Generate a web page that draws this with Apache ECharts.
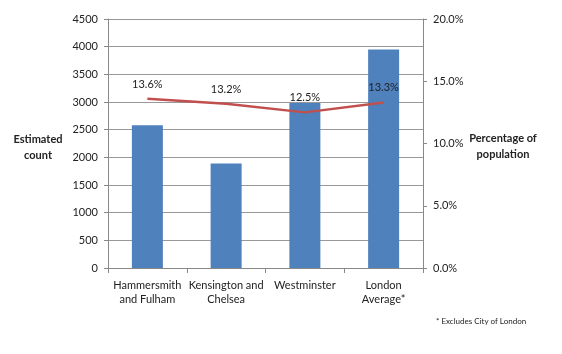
<!DOCTYPE html>
<html><head><meta charset="utf-8">
<script src="https://cdn.jsdelivr.net/npm/echarts@6/dist/echarts.min.js"></script>
<style>html,body{margin:0;padding:0;background:#fff}#c{width:562px;height:354px}</style>
</head><body><div id="c"></div>
<script>
const categories = ['Hammersmith\nand Fulham', 'Kensington and\nChelsea', 'Westminster', 'London\nAverage*'];
const counts = [2580, 1890, 2980, 3950];
const percents = [13.6, 13.2, 12.5, 13.3];
const leftTicks = [0, 4500, 500];
const rightTicks = [0, 20, 5];

const font = 'Lato, "Open Sans", sans-serif';
const chart = echarts.init(document.getElementById('c'));
chart.setOption({
  animation: false,
  textStyle: {fontFamily: font},
  grid: {left: 108, right: 139, top: 19, bottom: 86},
  xAxis: {
    type: 'category', data: categories,
    axisLine: {lineStyle: {color: '#888'}},
    axisTick: {show: true, alignWithLabel: false, length: 5, lineStyle: {color: '#888'}},
    axisLabel: {color: '#222', fontSize: 11, lineHeight: 14, margin: 10, interval: 0, fontFamily: font, align: 'center'}
  },
  yAxis: [{
    type: 'value', min: leftTicks[0], max: leftTicks[1], interval: leftTicks[2],
    axisLine: {show: true, lineStyle: {color: '#888'}},
    axisTick: {show: true, length: 4, lineStyle: {color: '#888'}},
    splitLine: {lineStyle: {color: '#999'}},
    axisLabel: {color: '#222', fontSize: 11, margin: 10, fontFamily: font, formatter: v => String(v)}
  }, {
    type: 'value', min: rightTicks[0], max: rightTicks[1], interval: rightTicks[2],
    axisLine: {show: true, lineStyle: {color: '#888'}},
    axisTick: {show: true, length: 4, lineStyle: {color: '#888'}},
    splitLine: {show: false},
    axisLabel: {color: '#222', fontSize: 11, margin: 10, fontFamily: font, formatter: v => v.toFixed(1) + '%'}
  }],
  series: [{
    type: 'bar', data: counts, yAxisIndex: 0, barWidth: 31,
    itemStyle: {color: '#4f81bd'}
  }, {
    type: 'line', data: percents, yAxisIndex: 1, symbol: 'circle', symbolSize: 2, showSymbol: true,
    itemStyle: {color: 'rgba(192,80,77,0)', borderWidth: 0},
    lineStyle: {color: '#c0504d', width: 2.5},
    label: {show: true, position: 'top', distance: 8, color: '#222', fontSize: 11, fontFamily: font, formatter: p => p.value.toFixed(1) + '%'}
  }],
  graphic: [
    {type: 'text', x: 38, y: 131, style: {text: 'Estimated\ncount', fontFamily: font, fontSize: 11, fontWeight: 'bold', fill: '#222', align: 'center', lineHeight: 16}},
    {type: 'text', x: 503, y: 130, style: {text: 'Percentage of\npopulation', fontFamily: font, fontSize: 11, fontWeight: 'bold', fill: '#222', align: 'center', lineHeight: 16}},
    {type: 'text', x: 436, y: 317, style: {text: '* Excludes City of London', fontFamily: font, fontSize: 8, fill: '#222'}}
  ]
});
</script></body></html>
